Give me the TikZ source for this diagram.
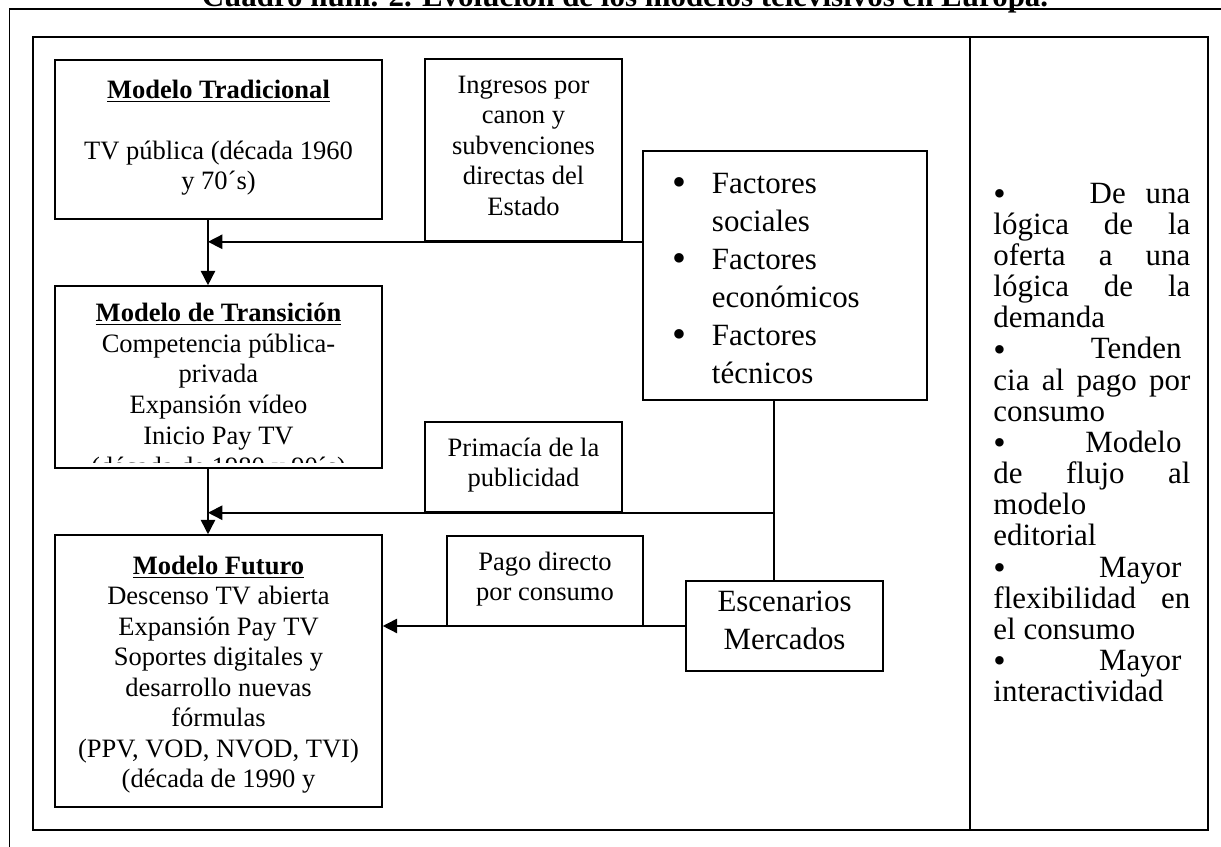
\documentclass[tikz,border=0pt]{standalone}
\usepackage{fontspec}
\setmainfont{Liberation Serif}
\usetikzlibrary{arrows.meta}

% width of the text in the right-hand column
\newlength\colw
\setlength\colw{89.1pt}
\newcommand\bigdot[1]{\smash{\raisebox{-1.1pt}{\fontsize{#1}{#1}\selectfont\textbullet}}}
\newcommand\jline[1]{\makebox[\colw][s]{#1}}
\newcommand\bline[1]{\makebox[\colw]{\bigdot{16}\hfill #1\hspace{4pt}}}
\newcommand\fbul{\makebox[0.636cm][l]{\bigdot{18}}}
\newcommand\find{\hspace*{0.636cm}}

\begin{document}
\begin{tikzpicture}[
    every node/.style={inner sep=0pt},
    box/.style={draw, line width=0.7pt, align=center,
                font=\fontsize{12}{13.8}\selectfont,
                execute at begin node=\strut, execute at end node=\strut},
    bigbox/.style={box, font=\fontsize{14}{17.2}\selectfont,
                   execute at begin node=\rule{0pt}{16.5pt}},
    txt/.style={align=center, font=\fontsize{12}{13.8}\selectfont,
                execute at begin node=\strut},
    link/.style={line width=0.7pt},
    arrow/.style={link, -{Triangle[length=6.5pt, width=6.5pt]}},
    frame/.style={line width=0.9pt},
]
\useasboundingbox (0,0) rectangle (19.419,13.471);
\clip (0,0) rectangle (19.419,13.471);

% --- heading and outer frame ---
\node[anchor=base, font=\fontsize{14}{16}\selectfont\bfseries] (titulo)
     at (9.940, 13.36)
     {Cuadro núm. 2. Evolución de los modelos televisivos en Europa.};
\draw[frame] (0.151, 0) -- (0.151, 13.328) -- (19.6, 13.328);

% --- table: diagram cell + notes cell ---
\draw[frame] (0.525, 0.270) rectangle (19.212, 12.882);
\draw[frame] (15.427, 0.270) -- (15.427, 12.882);

% --- models, left column ---
\node[box, minimum width=5.201cm, minimum height=2.529cm] (trad)
     at (3.475, 11.252)
     {\textbf{\underline{Modelo Tradicional}}\\[13.8pt]
      TV pública (década 1960\\y 70´s)};
\node[box, minimum width=5.201cm, minimum height=2.895cm] (trans)
     at (3.475, 7.475) {};
\node[box, minimum width=5.201cm, minimum height=4.326cm] (fut)
     at (3.475, 2.799) {};

% text of the two lower models runs from the top and overflows
\coordinate (transcut) at (0, 6.115);
\begin{scope}
  \clip (trans.north west) rectangle (trans.east |- transcut);
  \node[txt, font=\fontsize{12}{14}\selectfont, anchor=north] (transtxt)
       at ([yshift=-7.7pt]trans.north)
       {\textbf{\underline{Modelo de Transición}}\\
        Competencia pública-\\privada\\Expansión vídeo\\Inicio Pay TV\\
        (década de 1980 y 90´s)};
\end{scope}
\node[txt, anchor=north] (futtxt) at ([yshift=-9.5pt]fut.north)
     {\textbf{\underline{Modelo Futuro}}\\
      Descenso TV abierta\\Expansión Pay TV\\Soportes digitales y\\
      desarrollo nuevas\\fórmulas\\(PPV, VOD, NVOD, TVI)\\
      (década de 1990 y};

% --- sources of income ---
\node[box, minimum width=3.133cm, minimum height=2.895cm] (ingr)
     at (8.326, 11.085)
     {Ingresos por\\canon y\\subvenciones\\directas del\\Estado};
\node[box, minimum width=3.133cm, minimum height=1.431cm] (prim)
     at (8.326, 6.044) {Primacía de la\\publicidad};
\node[box, minimum width=3.117cm, minimum height=1.431cm] (pago)
     at (8.668, 4.230) {Pago directo\\por consumo};

% --- factors and markets ---
\node[bigbox, minimum width=4.517cm, minimum height=3.960cm,
      text width=3.595cm, inner xsep=0.461cm, align=left] (fact)
     at (12.485, 9.089)
     {\fbul Factores\\\find sociales\\
      \fbul Factores\\\find económicos\\
      \fbul Factores\\\find técnicos};
\node[bigbox, minimum width=3.133cm, minimum height=1.431cm] (esc)
     at (12.477, 3.515) {Escenarios\\Mercados};

% --- connectors ---
\coordinate (spine) at (3.308, 0);
\coordinate (trunk) at (12.310, 0);
\draw[arrow] (trad.south -| spine) -- (trans.north -| spine);
\draw[arrow] (trans.south -| spine) -- (fut.north -| spine);
\draw[arrow] (fact.west |- ingr.south) -- (spine |- ingr.south);
\draw[link] (fact.south -| trunk) -- (esc.north -| trunk);
\draw[arrow] (trunk |- prim.south) -- (spine |- prim.south);
\draw[arrow] (esc.west) -- (fut.east |- esc.west);

% --- notes, right column ---
\node[anchor=west, align=left, font=\fontsize{14}{14.1}\selectfont,
      execute at begin node=\strut, execute at end node=\strut] (notas)
     at (15.793, 6.362)
     {\makebox[\colw]{\bigdot{16}\hfill De\hspace{9pt}una}\\
      \jline{lógica de la}\\
      \jline{oferta a una}\\
      \jline{lógica de la}\\
      demanda\\
      \bline{Tenden}\\
      \jline{cia al pago por}\\
      consumo\\
      \bline{Modelo}\\
      \jline{de flujo al}\\
      modelo\\
      editorial\\
      \bline{Mayor}\\
      \jline{flexibilidad en}\\
      el consumo\\
      \bline{Mayor}\\
      interactividad};

\end{tikzpicture}
\end{document}
